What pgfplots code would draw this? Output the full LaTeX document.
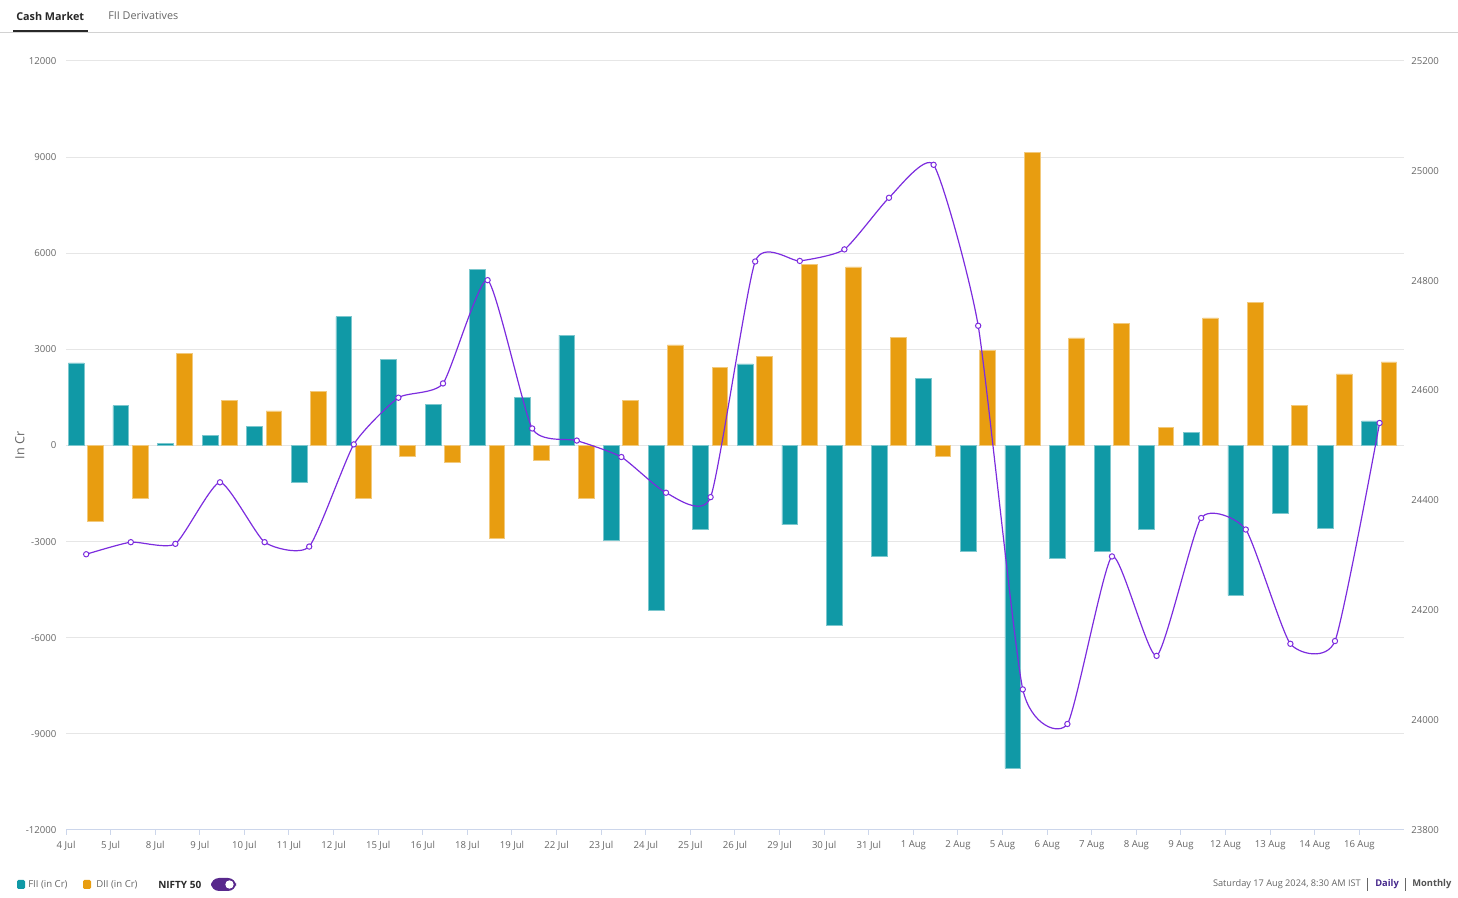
\documentclass[border=0pt]{standalone}
\usepackage{fontspec}
\setmainfont{Open Sans}
\usepackage{pgfplots}
\pgfplotsset{compat=1.18}
\usepackage{pgfplotstable}
\definecolor{fii}{RGB}{16,153,166}
\definecolor{dii}{RGB}{232,157,16}
\definecolor{nifty}{RGB}{124,44,222}
\definecolor{gridc}{RGB}{230,230,230}
\definecolor{axc}{RGB}{204,214,235}
\definecolor{labc}{RGB}{102,102,102}
\definecolor{darkt}{RGB}{40,40,40}
\definecolor{toggle}{RGB}{88,40,140}
\definecolor{daily}{RGB}{70,40,140}

\pgfplotstableread{
idx fii dii nifty
0 2575 -2381 24302
1 1241 -1651 24324
2 62 2866 24321
3 314 1417 24433
4 584 1081 24324
5 -1137 1676 24316
6 4021 -1652 24502
7 2685 -346 24587
8 1271 -524 24613
9 5484 -2904 24801
10 1506 -462 24531
11 3445 -1652 24509
12 -2975 1418 24479
13 -5131 3137 24414
14 -2605 2431 24406
15 2547 2775 24835
16 -2475 5660 24836
17 -5599 5572 24857
18 -3463 3366 24951
19 2089 -342 25011
20 -3310 2966 24718
21 -10074 9156 24056
22 -3532 3357 23993
23 -3314 3801 24298
24 -2627 577 24117
25 406 3979 24368
26 -4681 4477 24347
27 -2107 1258 24139
28 -2596 2236 24144
29 766 2606 24541
}\datatable

\pgfplotsset{
  base/.style={
    at={(49.5pt,51pt)}, anchor=south west,
    scale only axis, width=1003.5pt, height=576.75pt,
    xmin=0, xmax=30,
    scaled ticks=false,
    /pgf/number format/assume math mode=true,
    /pgf/number format/1000 sep={},
    clip=false,
  }
}

\begin{document}
\begin{tikzpicture}
\begin{scope}[x=0.75pt,y=0.75pt]
\path[use as bounding box] (0,0) rectangle (1458,898);
% tabs
\node[anchor=west, inner sep=0, font=\fontsize{8.1}{9}\selectfont\bfseries, text=darkt] at (16,882) {Cash Market};
\node[anchor=west, inner sep=0, font=\fontsize{8.1}{9}\selectfont, text=labc] at (108,882) {FII Derivatives};
\draw[gray!35, line width=0.75pt] (0,865.5) -- (1458,865.5);
\fill[darkt] (13,868) rectangle (88,865.5);
\end{scope}

\begin{axis}[base,
  ymin=-12000, ymax=12000,
  ytick={-12000,-9000,...,12000},
  xtick={0,...,29},
  xticklabels={4 Jul,5 Jul,8 Jul,9 Jul,10 Jul,11 Jul,12 Jul,15 Jul,16 Jul,18 Jul,19 Jul,22 Jul,23 Jul,24 Jul,25 Jul,26 Jul,29 Jul,30 Jul,31 Jul,1 Aug,2 Aug,5 Aug,6 Aug,7 Aug,8 Aug,9 Aug,12 Aug,13 Aug,14 Aug,16 Aug},
  axis x line*=bottom, axis y line*=left,
  x axis line style={draw=axc, line width=0.75pt, -},
  y axis line style={draw=none},
  xtick style={draw=axc, line width=0.75pt},
  ytick style={draw=none},
  tick align=outside, major tick length=3.75pt,
  ymajorgrids, grid style={draw=gridc, line width=0.75pt},
  yticklabel style={font=\fontsize{7.2}{8}\selectfont, text=labc, anchor=east, xshift=0pt},
  xticklabel style={font=\fontsize{7.2}{8}\selectfont, text=labc, yshift=-1pt},
  ylabel={In Cr}, ylabel style={font=\fontsize{9.5}{10}\selectfont, text=labc, yshift=-6pt},
]
\addplot[ybar, bar width=0.352, bar shift=0pt, fill=fii, draw=fii!55!white, line width=0.5pt]
  table[x expr=\thisrow{idx}+0.229, y=fii]{\datatable};
\addplot[ybar, bar width=0.352, bar shift=0pt, fill=dii, draw=dii!55!white, line width=0.5pt]
  table[x expr=\thisrow{idx}+0.661, y=dii]{\datatable};
\end{axis}

\begin{axis}[base,
  ymin=23800, ymax=25200,
  ytick={23800,24000,...,25200},
  axis x line=none, axis y line*=right,
  y axis line style={draw=none},
  ytick style={draw=none},
  yticklabel style={font=\fontsize{7.2}{8}\selectfont, text=labc, anchor=west, xshift=2pt},
]
\addplot[nifty, smooth, tension=0.33, line width=0.9pt, mark=*, mark size=2pt,
  mark options={fill=white, draw=nifty, line width=0.75pt}]
  table[x expr=\thisrow{idx}+0.453, y=nifty]{\datatable};
\end{axis}

\begin{scope}[x=0.75pt,y=0.75pt]
% legend
\fill[fii, rounded corners=1pt] (17,18) rectangle (25,9);
\node[anchor=west, inner sep=0, font=\fontsize{7.2}{8}\selectfont, text=labc] at (28,13.5) {FII (in Cr)};
\fill[dii, rounded corners=1pt] (83,18) rectangle (91,9);
\node[anchor=west, inner sep=0, font=\fontsize{7.2}{8}\selectfont, text=labc] at (96,13.5) {DII (in Cr)};
\node[anchor=west, inner sep=0, font=\fontsize{7.5}{8}\selectfont\bfseries, text=darkt] at (158,13.5) {NIFTY 50};
\fill[toggle, rounded corners=6pt] (211,20) rectangle (236,7);
\fill[white] (229.5,13.5) circle (4.2);
% bottom right
\node[anchor=east, inner sep=0, font=\fontsize{6.9}{8}\selectfont, text=labc] at (1361,13.5) {Saturday 17 Aug 2024, 8:30 AM IST};
\draw[labc, line width=0.75pt] (1367,20) -- (1367,7);
\node[anchor=west, inner sep=0, font=\fontsize{7}{8}\selectfont\bfseries, text=daily] at (1375,13.5) {Daily};
\draw[labc, line width=0.75pt] (1405,20) -- (1405,7);
\node[anchor=west, inner sep=0, font=\fontsize{7}{8}\selectfont\bfseries, text=darkt!80] at (1412,13.5) {Monthly};
\end{scope}
\end{tikzpicture}
\end{document}
